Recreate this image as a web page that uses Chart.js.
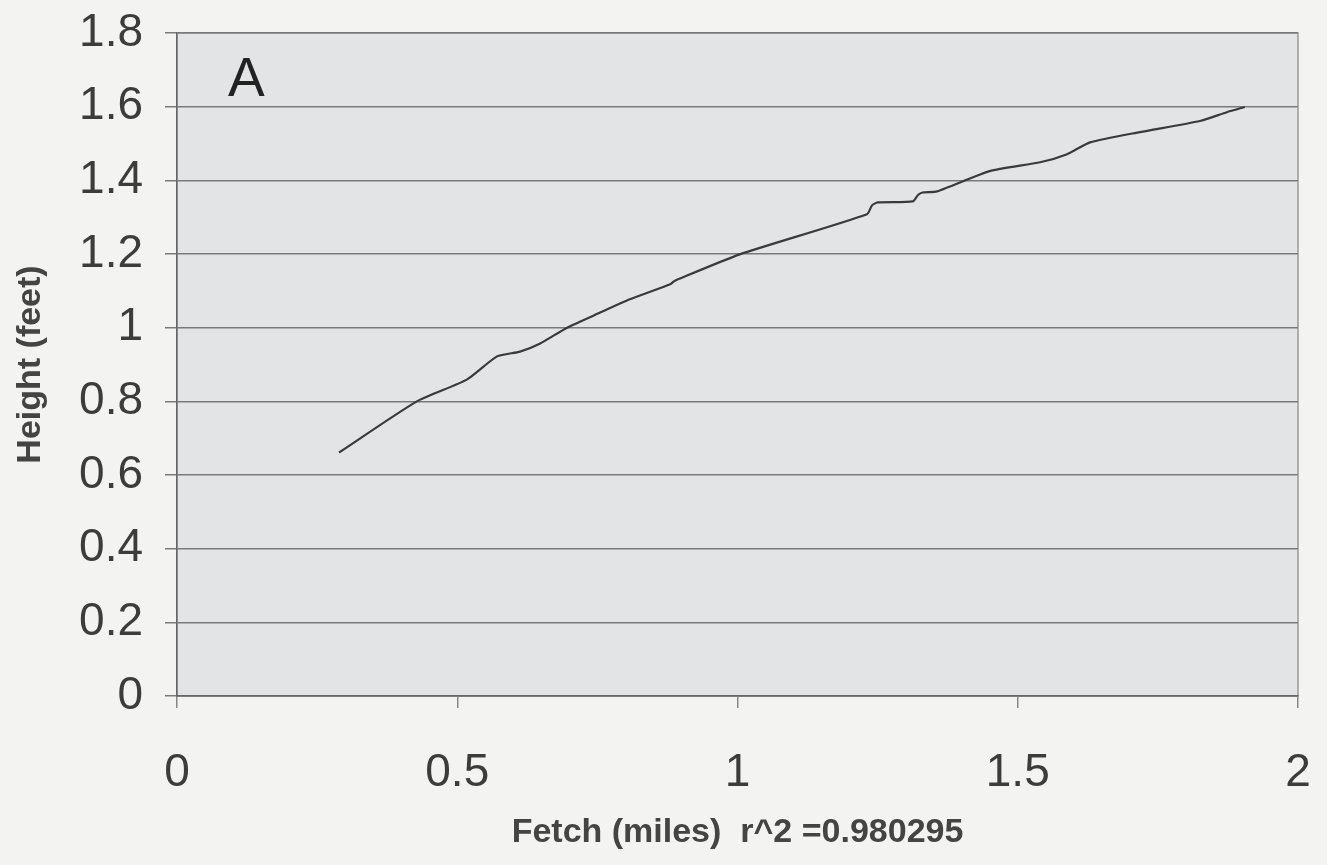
<!DOCTYPE html>
<html lang="en">
<head>
    <meta charset="UTF-8">
    <title>Height vs Fetch</title>
    <script src="https://cdn.jsdelivr.net/npm/chart.js"></script>
    <style>
        html, body { margin: 0; padding: 0; background: #f3f3f2; }
        #wrap { width: 1327px; height: 865px; }
    </style>
</head>
<body>
    <div id="wrap"><canvas id="grafico" width="1327" height="865"></canvas></div>
    <script>
        // values
        const fetchMiles = [0.289, 0.428, 0.517, 0.571, 0.612, 0.648, 0.696, 0.755, 0.808, 0.880, 0.886, 0.892,
            1.004, 1.231, 1.240, 1.250, 1.313, 1.322, 1.330, 1.356, 1.450, 1.540, 1.588, 1.629, 1.718, 1.825, 1.873, 1.905];
        const heightFeet = [0.661, 0.800, 0.859, 0.922, 0.935, 0.957, 1.000, 1.041, 1.077, 1.118, 1.125, 1.130,
            1.199, 1.308, 1.332, 1.340, 1.343, 1.360, 1.367, 1.370, 1.425, 1.449, 1.471, 1.503, 1.531, 1.561, 1.585, 1.599];
        const yTicks = [0, 0.2, 0.4, 0.6, 0.8, 1, 1.2, 1.4, 1.6, 1.8];
        const xTicks = [0, 0.5, 1, 1.5, 2];
        const panelLabel = 'A';

        const puntos = fetchMiles.map((x, i) => ({ x: x, y: heightFeet[i] }));
        const etiqueta = (v) => String(Math.round(v * 10) / 10);

        const fondoPlot = {
            id: 'fondoPlot',
            beforeDraw(chart) {
                const { ctx, chartArea: a } = chart;
                ctx.save();
                ctx.fillStyle = '#e3e4e6';
                ctx.fillRect(a.left, a.top, a.right - a.left, a.bottom - a.top);
                ctx.strokeStyle = '#9a9a9a';
                ctx.lineWidth = 1.5;
                ctx.strokeRect(a.left, a.top, a.right - a.left, a.bottom - a.top);
                ctx.restore();
            },
            afterDraw(chart) {
                const { ctx, chartArea: a } = chart;
                ctx.save();
                ctx.fillStyle = '#222';
                ctx.font = '55px "Liberation Sans", Arial, sans-serif';
                ctx.textBaseline = 'middle';
                ctx.fillText(panelLabel, a.left + 51, 81);
                ctx.restore();
            }
        };

        new Chart(document.getElementById('grafico'), {
            type: 'scatter',
            data: {
                datasets: [{
                    data: puntos,
                    showLine: true,
                    borderColor: '#3a3a3a',
                    borderWidth: 2.2,
                    pointRadius: 0,
                    tension: 0.2,
                    fill: false
                }]
            },
            options: {
                responsive: false,
                animation: false,
                layout: { padding: { top: 33, right: 29, left: 0, bottom: 0 } },
                plugins: { legend: { display: false }, tooltip: { enabled: false } },
                scales: {
                    x: {
                        type: 'linear',
                        min: 0,
                        max: 2,
                        afterBuildTicks: (s) => { s.ticks = xTicks.map(v => ({ value: v })); },
                        afterFit: (s) => {
                            s.height = 169;
                            s.paddingLeft = 0;
                            s.paddingRight = 0;
                        },
                        ticks: {
                            padding: 38,
                            color: '#3c3c3c',
                            font: { family: '"Liberation Sans", Arial', size: 46 },
                            maxRotation: 0,
                            callback: etiqueta
                        },
                        grid: { drawOnChartArea: false, drawTicks: true, tickLength: 12, color: '#888', lineWidth: 1.5 },
                        border: { color: '#666', width: 1.5 },
                        title: {
                            display: true,
                            text: 'Fetch (miles)  r^2 =0.980295',
                            color: '#444',
                            font: { family: '"Liberation Sans", Arial', size: 34, weight: 'bold' },
                            padding: { top: 0, bottom: 12 }
                        }
                    },
                    y: {
                        min: 0,
                        max: 1.8,
                        afterBuildTicks: (s) => { s.ticks = yTicks.map(v => ({ value: v })); },
                        afterFit: (s) => {
                            s.width = 177;
                            s.paddingTop = 0;
                            s.paddingBottom = 0;
                        },
                        ticks: {
                            padding: 22,
                            color: '#3c3c3c',
                            font: { family: '"Liberation Sans", Arial', size: 46 },
                            callback: etiqueta
                        },
                        grid: { color: '#7a7a7a', lineWidth: 1.5, tickLength: 12 },
                        border: { color: '#666', width: 1.5 },
                        title: {
                            display: true,
                            text: 'Height (feet)',
                            color: '#444',
                            font: { family: '"Liberation Sans", Arial', size: 34, weight: 'bold' },
                            padding: { top: 10, bottom: 0 }
                        }
                    }
                }
            },
            plugins: [fondoPlot]
        });
    </script>
</body>
</html>
